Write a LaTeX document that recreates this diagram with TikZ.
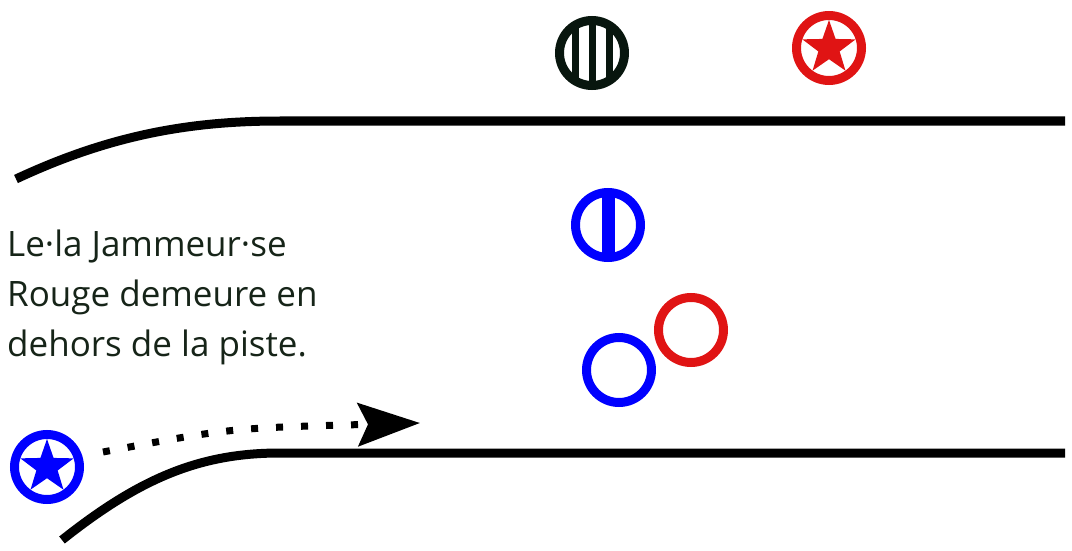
\documentclass[tikz,border=0pt]{standalone}
\usepackage{fontspec}
\setmainfont{Open Sans}
\usetikzlibrary{arrows.meta,shapes.geometric}

\definecolor{jamred}{RGB}{224,20,20}
\definecolor{jamblue}{RGB}{0,0,255}
\definecolor{pivdark}{RGB}{8,22,14}
\definecolor{textdark}{RGB}{22,36,24}

\tikzset{
    track/.style={line width=9pt},
    player/.style={circle, draw, line width=9pt, minimum size=65pt, inner sep=0pt},
    stripe/.style={path picture={\fill[#1] ([xshift=-6.5pt]path picture bounding box.north) rectangle ([xshift=6.5pt]path picture bounding box.south);}},
    pivotstripes/.style={path picture={
        \foreach \dx in {-17,0,17} {
            \fill[#1] ([xshift=\dx pt-3.5pt]path picture bounding box.north) rectangle ([xshift=\dx pt+3.5pt]path picture bounding box.south);
        }}},
    starmark/.style={star, star points=5, star point ratio=2.5, fill=#1, inner sep=0pt, minimum size=56pt},
    route/.style={line width=7pt, dash pattern=on 7pt off 18pt, -{Stealth[length=62pt,width=43pt,inset=10pt]}}
}

\begin{document}
\begin{tikzpicture}[x=1pt,y=-1pt]
    \useasboundingbox (0,0) rectangle (1072,551);

    % Track borders
    \draw[track] (16,179) .. controls (110,135) and (190,121) .. (280,121) -- (1065,121);
    \draw[track] (62,540) .. controls (140,478) and (200,453) .. (280,453) -- (1065,453);

    % Players outside the track
    \node[player, draw=pivdark, pivotstripes=pivdark] (pivot) at (592,53) {};
    \node[player, draw=jamred, fill=white] (redjammer) at (829,48) {};
    \node[starmark=jamred] at (redjammer) {};

    % Players on the track
    \node[player, draw=jamblue, stripe=jamblue] (bluepivot) at (608,225) {};
    \node[player, draw=jamred] (redblocker) at (691,330) {};
    \node[player, draw=jamblue] (blueblocker) at (619,370) {};

    % Blue jammer entering
    \node[player, draw=jamblue, fill=white] (bluejammer) at (47,467) {};
    \node[starmark=jamblue] at (bluejammer) {};
    \coordinate (tip) at (420,423);
    \draw[route] ([xshift=56pt,yshift=15pt]bluejammer.center) .. controls (230,428) .. (tip);

    % Caption
    \node[anchor=north west, align=left, text=textdark, font=\fontsize{35pt}{50pt}\selectfont, inner sep=0pt] (caption) at (7,229.5)
        {Le·la Jammeur·se\\Rouge demeure en\\dehors de la piste.};
\end{tikzpicture}
\end{document}
